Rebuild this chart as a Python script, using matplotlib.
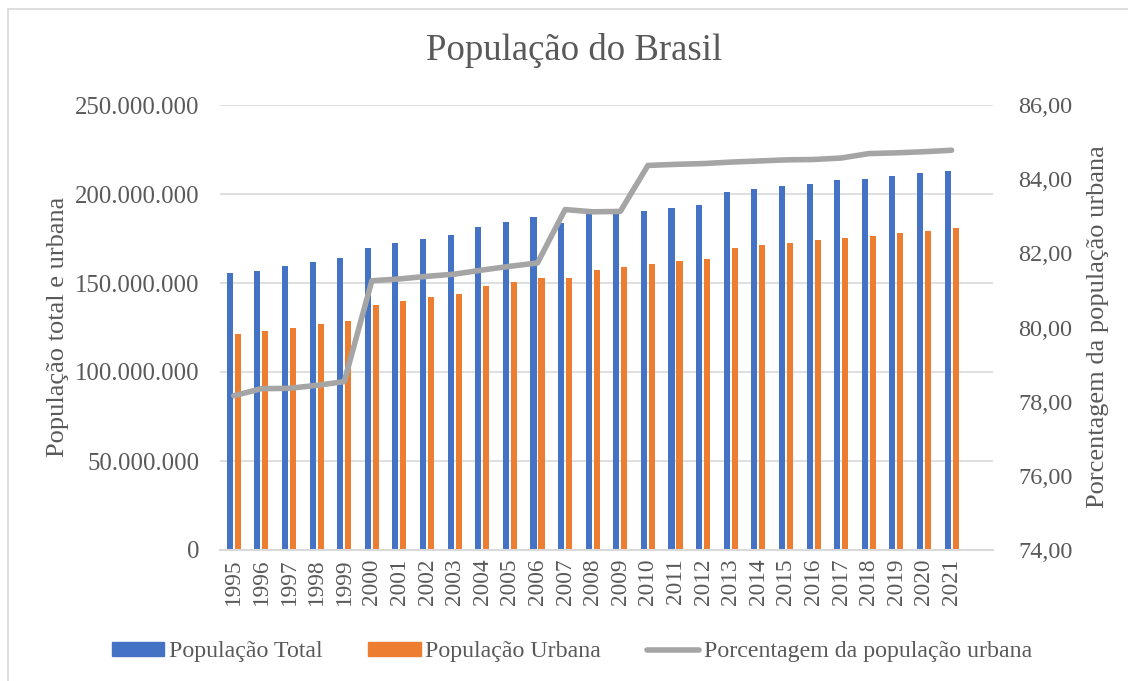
import matplotlib
matplotlib.use("Agg")
import matplotlib.pyplot as plt
from matplotlib.patches import Patch
from matplotlib.lines import Line2D
from matplotlib.ticker import FuncFormatter
import numpy as np

plt.rcParams['font.family'] = ['Liberation Serif', 'DejaVu Serif']

anos = ['1995', '1996', '1997', '1998', '1999', '2000', '2001', '2002', '2003',
        '2004', '2005', '2006', '2007', '2008', '2009', '2010', '2011', '2012',
        '2013', '2014', '2015', '2016', '2017', '2018', '2019', '2020', '2021']

# milhoes de habitantes
populacao_total = [155.6, 156.9, 159.7, 161.8, 163.8, 169.7, 172.5, 174.5, 177.0,
                   181.6, 184.1, 186.9, 183.9, 188.6, 189.6, 190.6, 192.3, 194.0,
                   200.9, 202.8, 204.3, 205.8, 207.7, 208.4, 210.1, 211.8, 213.1]
populacao_urbana = [121.5, 123.0, 124.9, 127.0, 128.8, 137.8, 140.1, 142.1, 144.0,
                    148.1, 150.3, 152.6, 153.0, 157.5, 159.0, 160.8, 162.4, 163.7,
                    169.7, 171.3, 172.6, 174.2, 175.4, 176.6, 177.9, 179.4, 180.9]
porcentagem = [78.16, 78.35, 78.36, 78.44, 78.54, 81.26, 81.31, 81.38, 81.44,
               81.55, 81.65, 81.74, 83.18, 83.12, 83.13, 84.37, 84.40, 84.42,
               84.46, 84.49, 84.52, 84.53, 84.57, 84.69, 84.71, 84.74, 84.78]

azul = '#4472C4'
laranja = '#ED7D31'
cinza = '#A5A5A5'
texto = '#595959'
grade = '#D9D9D9'

W, H = 1128, 681
fig = plt.figure(figsize=(W / 100, H / 100), dpi=100)

ax = fig.add_axes([220 / W, (H - 550) / H, 773 / W, 445 / H])
ax2 = ax.twinx()

x = np.arange(len(anos))
total = np.array(populacao_total) * 1e6
urbana = np.array(populacao_urbana) * 1e6

ax.bar(x - 0.145, total, width=0.22, color=azul, zorder=2)
ax.bar(x + 0.145, urbana, width=0.22, color=laranja, zorder=2)
ax2.plot(x, porcentagem, color=cinza, linewidth=4, solid_capstyle='round')

ax.set_xlim(-0.5, 27.5)
ax.set_ylim(0, 250e6)
ax.set_yticks(np.arange(0, 250e6 + 1, 50e6))
ax.yaxis.set_major_formatter(FuncFormatter(lambda v, p: f"{int(v):,}".replace(',', '.')))
ax.grid(axis='y', color=grade, linewidth=1.2, zorder=0)
ax.set_axisbelow(True)

ax2.set_ylim(74, 86)
ax2.set_yticks(np.arange(74, 86.1, 2))
ax2.yaxis.set_major_formatter(FuncFormatter(lambda v, p: f"{v:.2f}".replace('.', ',')))

ax.set_xticks(x)
ax.set_xticklabels(anos, rotation=90, fontsize=16.8, color=texto)

for a in (ax, ax2):
    for s in a.spines.values():
        s.set_visible(False)
    a.tick_params(length=0, colors=texto)
ax.spines['bottom'].set_visible(True)
ax.spines['bottom'].set_color(grade)
ax.spines['bottom'].set_linewidth(1.5)

ax.tick_params(axis='y', labelsize=17.8, pad=15)
ax.tick_params(axis='x', pad=6)
ax2.tick_params(axis='y', labelsize=17.5, pad=18)

fig.text(574 / W, 1 - 50 / H, 'População do Brasil', fontsize=26.5,
         color=texto, ha='center', va='center')
fig.text(58 / W, 1 - 327 / H, 'População total e urbana', fontsize=19,
         color=texto, rotation=90, ha='center', va='center')
fig.text(1098 / W, 1 - 327 / H, 'Porcentagem da população urbana', fontsize=19,
         color=texto, rotation=90, ha='center', va='center')

handles = [Patch(color=azul), Patch(color=laranja),
           Line2D([0], [0], color=cinza, linewidth=4, solid_capstyle='round')]
labels = ['População Total', 'População Urbana', 'Porcentagem da população urbana']
leg = fig.legend(handles, labels, loc='center', bbox_to_anchor=(572 / W, 1 - 652 / H),
                 ncol=3, frameon=False, fontsize=17.2, handlelength=2.2,
                 handleheight=0.5, handletextpad=0.2, columnspacing=1.9)
for t in leg.get_texts():
    t.set_color(texto)

# moldura do grafico
fig.add_artist(Line2D([7.5 / W, 7.5 / W], [0, 1 - 9 / H], color=grade, linewidth=1.2))
fig.add_artist(Line2D([7.5 / W, 1], [1 - 9 / H, 1 - 9 / H], color=grade, linewidth=1.2))

fig.savefig('out.png', dpi=100)
